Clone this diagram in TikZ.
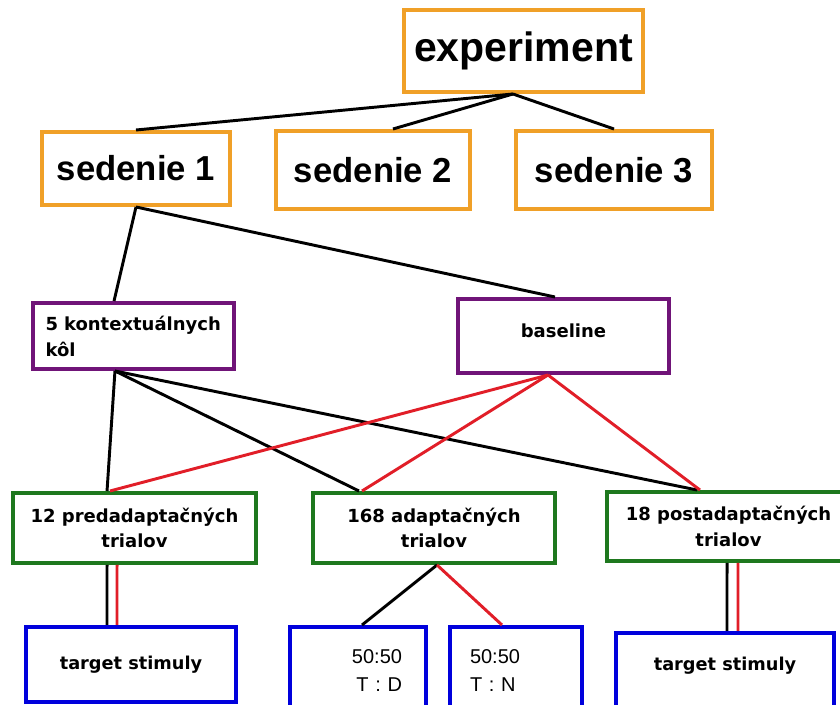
\documentclass[tikz,border=0pt]{standalone}
\usepackage{fontspec}
\setmainfont{DejaVu Sans}
\newfontfamily\arialfont{Liberation Sans}
\definecolor{boxorange}{RGB}{240,160,40}
\definecolor{boxpurple}{RGB}{112,20,120}
\definecolor{boxgreen}{RGB}{30,120,30}
\definecolor{boxblue}{RGB}{0,0,220}
\definecolor{linkred}{RGB}{225,30,40}
\tikzset{
  box/.style={draw, rectangle, line width=3pt, inner sep=0pt, align=center},
  topbox/.style={box, draw=boxorange, font=\arialfont\bfseries},
  blockbox/.style={box, draw=boxpurple, font=\bfseries\fontsize{13.5}{19.5}\selectfont},
  trialbox/.style={box, draw=boxgreen, font=\bfseries\fontsize{13.5}{19}\selectfont},
  stimbox/.style={box, draw=boxblue, font=\bfseries\fontsize{13.3}{19}\selectfont},
  ratiobox/.style={box, draw=boxblue, font=\arialfont\fontsize{15}{21}\selectfont},
  link/.style={line width=2.2pt, draw=black},
  redlink/.style={line width=2.2pt, draw=linkred},
}
\begin{document}
\begin{tikzpicture}[x=0.75pt, y=-0.75pt]
      \clip (0,0) rectangle (840,705);
      \draw
        (523.5,51) node[topbox, minimum width=179.25pt, minimum height=61.5pt,
          font=\arialfont\bfseries\fontsize{30.75}{36}\selectfont] (exp) {experiment}
        (136,168.5) node[topbox, minimum width=141pt, minimum height=54.75pt,
          font=\arialfont\bfseries\fontsize{26}{30}\selectfont] (s1) {sedenie 1}
        (373,170) node[topbox, minimum width=145.5pt, minimum height=58.5pt,
          font=\arialfont\bfseries\fontsize{26}{30}\selectfont] (s2) {sedenie 2}
        (614,170) node[topbox, minimum width=147pt, minimum height=58.5pt,
          font=\arialfont\bfseries\fontsize{26}{30}\selectfont] (s3) {sedenie 3}
        (133.5,336) node[blockbox, text width=132pt, inner xsep=9.4pt, align=left,
          minimum height=49.5pt] (kk) {5 kontextuálnych\\kôl}
        (563.5,336) node[blockbox, minimum width=158.25pt, minimum height=55.5pt,
          text depth=7.5pt] (base) {baseline}
        (134.5,528) node[trialbox, minimum width=182.25pt, minimum height=52.5pt] (pre) {12 predadaptačných\\trialov}
        (434,528) node[trialbox, minimum width=181.5pt, minimum height=52.5pt] (ada) {168 adaptačných\\trialov}
        (728.5,526.5) node[trialbox, minimum width=182.25pt, minimum height=51.75pt] (post) {18 postadaptačných\\trialov}
        (131,664.5) node[stimbox, minimum width=157.5pt, minimum height=56.25pt] (tgl) {target stimuly}
        (358,671) node[ratiobox, text width=66pt, inner xsep=18pt, align=right,
          minimum height=66pt] (td) {50:50\\T : D}
        (516,671) node[ratiobox, text width=69pt, inner xsep=15pt, align=left,
          minimum height=66pt] (tn) {50:50\\T : N}
        (725,674) node[stimbox, minimum width=163.5pt, minimum height=61.5pt,
          text depth=15pt] (tgr) {target stimuly};
      % experiment -> sedenia
      \begin{scope}[link]
        \draw ([xshift=-7.9pt]exp.south) to (s1.north);
        \draw ([xshift=-7.9pt]exp.south) to ([xshift=15pt]s2.north);
        \draw ([xshift=-7.9pt]exp.south) to (s3.north);
        \draw (s1.south) to ([xshift=-14.6pt]kk.north);
        \draw (s1.south) to ([xshift=-6.4pt]base.north);
        \draw ([xshift=-13.9pt]kk.south) to ([xshift=-20.6pt]pre.north);
        \draw ([xshift=-13.9pt]kk.south) to ([xshift=-56.25pt]ada.north);
        \draw ([xshift=-13.9pt]kk.south) to ([xshift=-23.6pt]post.north);
        \draw ([xshift=-20.6pt]pre.south) to ([xshift=-18pt]tgl.north);
        \draw ([xshift=2.25pt]ada.south) to ([xshift=3pt]td.north);
        \draw ([xshift=-1.1pt]post.south) to ([xshift=1.5pt]tgr.north);
      \end{scope}
      % baseline -> trialy
      \begin{scope}[redlink]
        \draw ([xshift=-11.6pt]base.south) to ([xshift=-18.4pt]pre.north);
        \draw ([xshift=-11.6pt]base.south) to ([xshift=-54pt]ada.north);
        \draw ([xshift=-11.6pt]base.south) to ([xshift=-21.4pt]post.north);
        \draw ([xshift=-13.1pt]pre.south) to ([xshift=-10.5pt]tgl.north);
        \draw ([xshift=2.25pt]ada.south) to ([xshift=-10.5pt]tn.north);
        \draw ([xshift=7.1pt]post.south) to ([xshift=9.75pt]tgr.north);
      \end{scope}
    \end{tikzpicture}
\end{document}
